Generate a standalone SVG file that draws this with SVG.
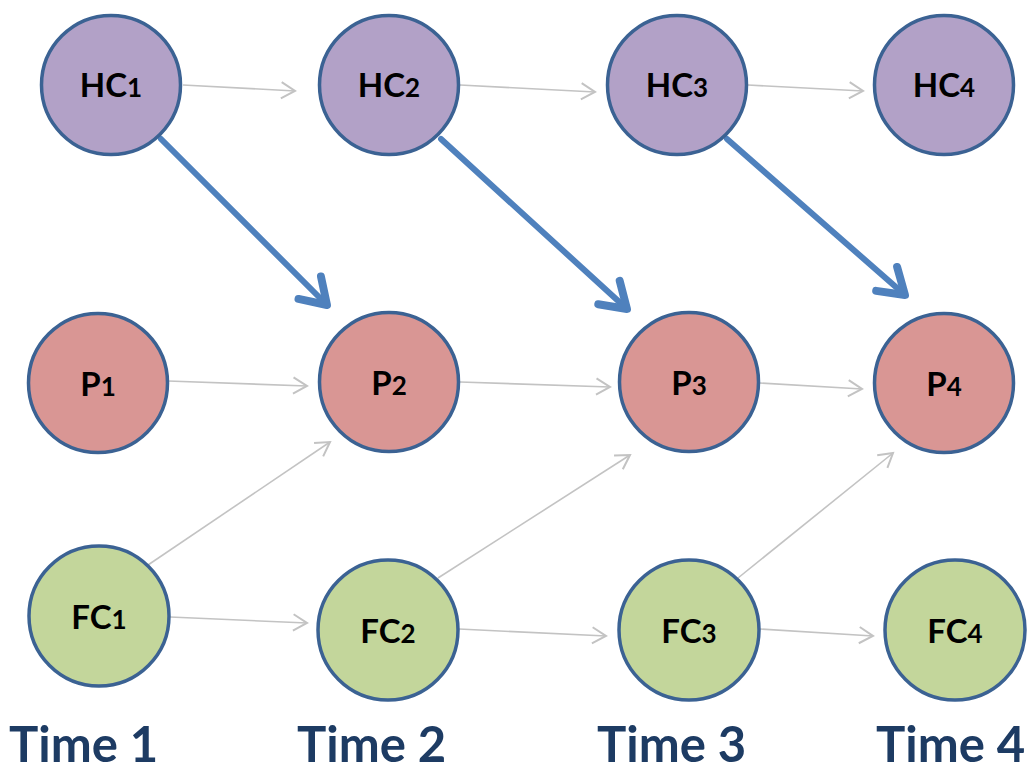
<svg xmlns="http://www.w3.org/2000/svg" width="1029" height="770" viewBox="0 0 1029 770">
<style>
.hc{fill:#b2a1c7;stroke:#3b6293;stroke-width:3.5}
.p{fill:#d99694;stroke:#3b6293;stroke-width:3.5}
.fc{fill:#c3d69b;stroke:#3b6293;stroke-width:3.5}
.lbl{font-family:Lato,"Liberation Sans",sans-serif;font-weight:bold;font-size:33px;fill:#000;text-anchor:middle}
.sub{font-size:26px}
.time{font-family:Lato,"Liberation Sans",sans-serif;font-weight:bold;font-size:49px;fill:#1d3b63}
.thin{stroke:#c3c3c3;stroke-width:1.6;fill:none;marker-end:url(#chev)}
.thick{stroke:#4f81bd;stroke-width:6;fill:none;stroke-linecap:round;marker-end:url(#bchev)}
</style>
<defs>
<marker id="chev" markerUnits="userSpaceOnUse" markerWidth="20" markerHeight="20" viewBox="-12 -8 14 16" refX="0" refY="0" orient="auto">
<path d="M-11,-6.5 L0,0 L-11,6.5" fill="none" stroke="#c3c3c3" stroke-width="1.6"/>
</marker>
<marker id="bchev" markerUnits="userSpaceOnUse" markerWidth="44" markerHeight="44" viewBox="-24 -18 28 36" refX="0" refY="0" orient="auto">
<path d="M-20,-13 L0,0 L-20,13" fill="none" stroke="#4f81bd" stroke-width="6.5" stroke-linecap="round" stroke-linejoin="round"/>
</marker>
</defs>
<g id="connectors">
<line class="thin" x1="183" y1="85" x2="295" y2="91"/>
<line class="thin" x1="460" y1="85" x2="595" y2="92"/>
<line class="thin" x1="748" y1="85" x2="863" y2="91"/>
<line class="thin" x1="168" y1="381" x2="307" y2="386"/>
<line class="thin" x1="460" y1="382" x2="610" y2="387"/>
<line class="thin" x1="759" y1="383" x2="862" y2="389"/>
<line class="thin" x1="170" y1="617" x2="307" y2="623"/>
<line class="thin" x1="459" y1="629" x2="606" y2="636"/>
<line class="thin" x1="760" y1="629" x2="873" y2="636"/>
<line class="thin" x1="148" y1="565" x2="330" y2="442"/>
<line class="thin" x1="438" y1="578" x2="630" y2="455"/>
<line class="thin" x1="738" y1="578" x2="893" y2="453"/>
<line class="thick" x1="161" y1="139" x2="327" y2="305"/>
<line class="thick" x1="441" y1="139" x2="627" y2="309"/>
<line class="thick" x1="727" y1="139" x2="905" y2="295"/>
</g>
<g id="HC1"><circle class="hc" cx="111" cy="85" r="69.5"/><text class="lbl" x="111" y="97">HC<tspan class="sub">1</tspan></text></g>
<g id="HC2"><circle class="hc" cx="389" cy="85" r="69.5"/><text class="lbl" x="389" y="97">HC<tspan class="sub">2</tspan></text></g>
<g id="HC3"><circle class="hc" cx="677" cy="85" r="69.5"/><text class="lbl" x="677" y="97">HC<tspan class="sub">3</tspan></text></g>
<g id="HC4"><circle class="hc" cx="944" cy="85" r="69.5"/><text class="lbl" x="944" y="97">HC<tspan class="sub">4</tspan></text></g>
<g id="P1"><circle class="p" cx="98" cy="383" r="69.5"/><text class="lbl" x="98" y="396">P<tspan class="sub">1</tspan></text></g>
<g id="P2"><circle class="p" cx="389" cy="382" r="69.5"/><text class="lbl" x="389" y="395">P<tspan class="sub">2</tspan></text></g>
<g id="P3"><circle class="p" cx="689" cy="382" r="69.5"/><text class="lbl" x="689" y="395">P<tspan class="sub">3</tspan></text></g>
<g id="P4"><circle class="p" cx="944" cy="383" r="69.5"/><text class="lbl" x="944" y="396">P<tspan class="sub">4</tspan></text></g>
<g id="FC1"><circle class="fc" cx="99" cy="616" r="70"/><text class="lbl" x="99" y="629">FC<tspan class="sub">1</tspan></text></g>
<g id="FC2"><circle class="fc" cx="388" cy="630" r="70"/><text class="lbl" x="388" y="643">FC<tspan class="sub">2</tspan></text></g>
<g id="FC3"><circle class="fc" cx="689" cy="630" r="70"/><text class="lbl" x="689" y="643">FC<tspan class="sub">3</tspan></text></g>
<g id="FC4"><circle class="fc" cx="955" cy="630" r="70"/><text class="lbl" x="955" y="643">FC<tspan class="sub">4</tspan></text></g>
<g id="timeline">
<text class="time" x="9" y="762">Time 1</text>
<text class="time" x="297" y="762">Time 2</text>
<text class="time" x="597" y="762">Time 3</text>
<text class="time" x="876" y="762">Time 4</text>
</g>
</svg>
